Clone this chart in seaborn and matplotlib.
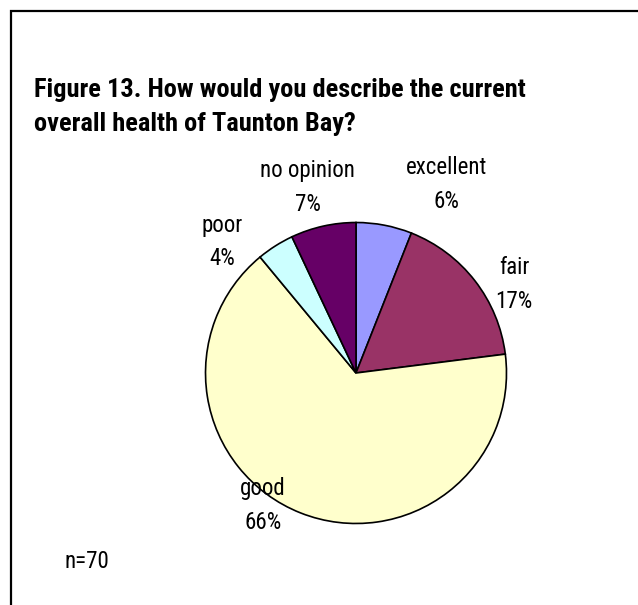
import matplotlib
matplotlib.use("Agg")
import matplotlib.pyplot as plt
import seaborn as sns
from matplotlib.patches import Polygon

sns.set_theme(style="white")
plt.rcParams["font.family"] = ["Roboto Condensed", "DejaVu Sans"]
plt.rcParams["text.color"] = "black"

# Survey responses, clockwise from 12 o'clock
categories = ["excellent", "fair", "good", "poor", "no opinion"]
shares = [6, 17, 66, 4, 7]
colors = ["#9999FF", "#993366", "#FFFFCC", "#CCFFFF", "#660066"]
title = "Figure 13. How would you describe the current\noverall health of Taunton Bay?"
note = "n=70"

W, H = 638, 605
fig = plt.figure(figsize=(W / 100, H / 100), dpi=100)

# open frame (left and top edges)
frame = Polygon([(11 / W, 0), (11 / W, 1 - 11 / H), (1.0, 1 - 11 / H)],
                closed=False, fill=False, edgecolor="black", linewidth=1.6,
                transform=fig.transFigure)
fig.add_artist(frame)

fig.text(34 / W, 1 - 107 / H, title, fontsize=19, fontweight="bold",
         ha="left", va="center", linespacing=1.55)
fig.text(87 / W, 1 - 561 / H, note, fontsize=16.5, ha="center", va="center")

cx, cy, r = 356, 373, 152
ax = fig.add_axes([(cx - r) / W, (H - cy - r) / H, 2 * r / W, 2 * r / H])
labels = [f"{c}\n{v}%" for c, v in zip(categories, shares)]
wedges, texts = ax.pie(shares, colors=colors, startangle=90, counterclock=False,
                       labels=labels,
                       wedgeprops=dict(edgecolor="black", linewidth=1.2),
                       textprops=dict(fontsize=16.5, linespacing=1.6))
ax.set_xlim(-1.01, 1.01)
ax.set_ylim(-1.01, 1.01)
ax.set_aspect("equal")
ax.axis("off")

# label anchor points (in pie radii) outside each slice
label_pos = {
    "excellent": (0.60, 1.25),
    "fair": (1.05, 0.59),
    "good": (-0.62, -0.88),
    "poor": (-0.89, 0.87),
    "no opinion": (-0.32, 1.23),
}
for t, c in zip(texts, categories):
    t.set_position(label_pos[c])
    t.set_ha("center")
    t.set_va("center")
    t.set_clip_on(False)

fig.savefig("out.png", dpi=100, facecolor="white")
